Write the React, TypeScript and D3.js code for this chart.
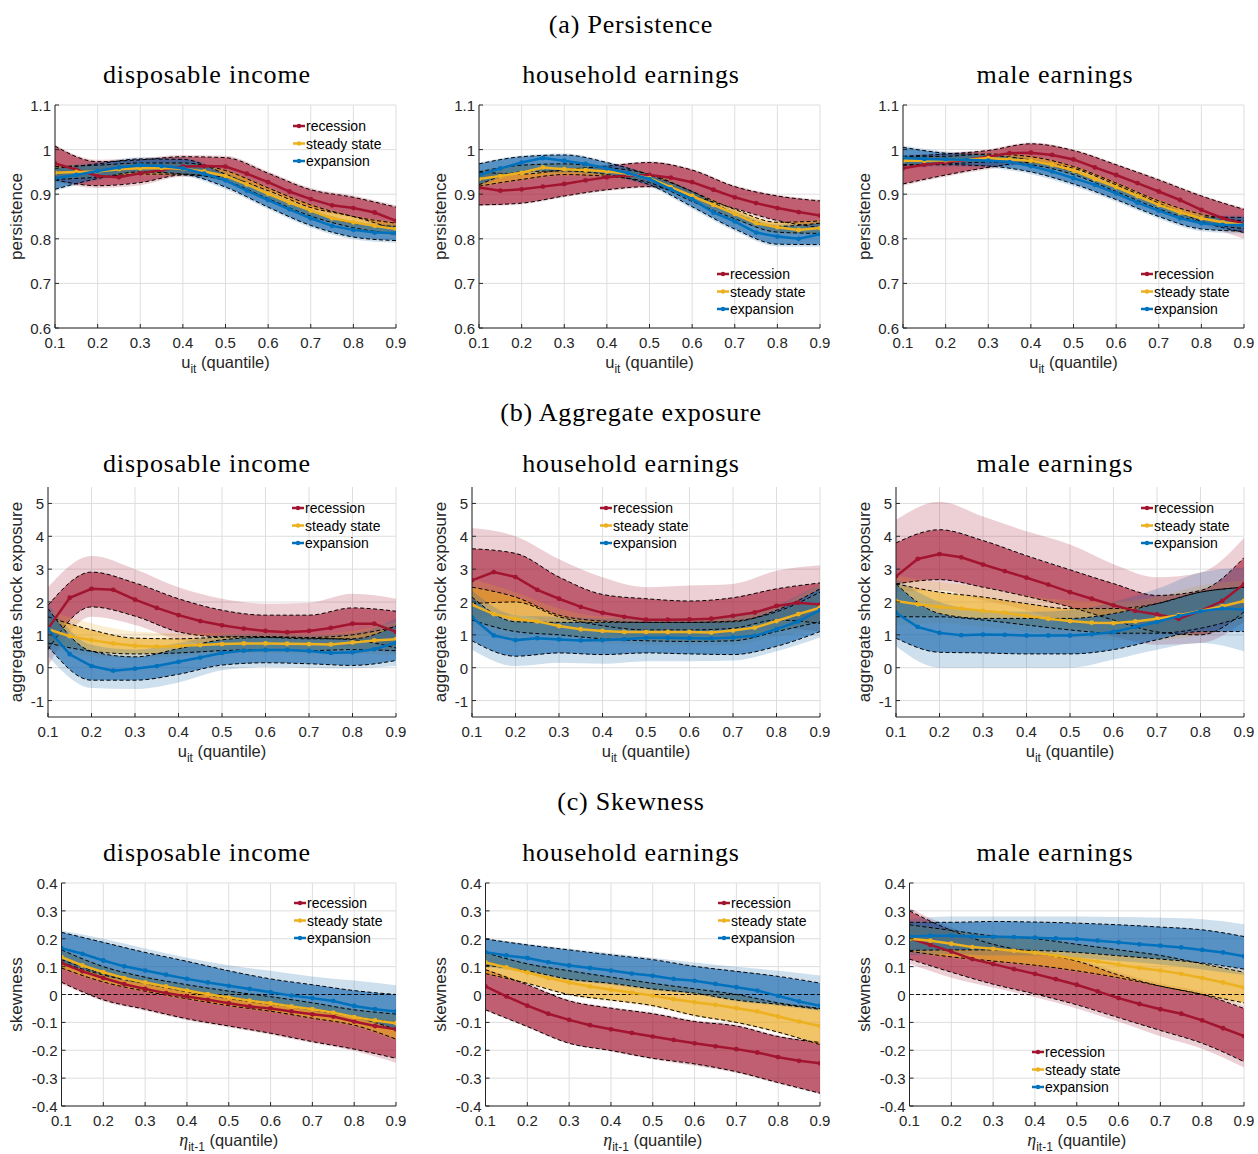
import React, { useEffect, useRef } from 'react';
import * as d3 from 'd3';

// quantile grid of the point estimates and of the confidence bands
const QUANTILES = [0.1, 0.15, 0.2, 0.25, 0.3, 0.35, 0.4, 0.45, 0.5, 0.55, 0.6, 0.65, 0.7, 0.75, 0.8, 0.85, 0.9];
const BAND_QUANTILES = [0.1, 0.2, 0.3, 0.4, 0.5, 0.6, 0.7, 0.8, 0.9];
const X_TICKS = [0.1, 0.2, 0.3, 0.4, 0.5, 0.6, 0.7, 0.8, 0.9];

const SERIES_NAMES = ['recession', 'steady state', 'expansion'];
const SERIES_COLORS = ['#A2142F', '#EDB120', '#0072BD'];
const BAND_COLORS = ['#A2142F', '#E9A820', '#0A5FA8'];
const SECTION_TITLES = ['(a) Persistence', '(b) Aggregate exposure', '(c) Skewness'];
const PANEL_TITLES = ['disposable income', 'household earnings', 'male earnings'];
const Y_LABELS = ['persistence', 'aggregate shock exposure', 'skewness'];
const Y_TICKS_PERS = [0.6, 0.7, 0.8, 0.9, 1, 1.1];
const Y_TICKS_AGG = [-1, 0, 1, 2, 3, 4, 5];
const Y_TICKS_SKEW = [-0.4, -0.3, -0.2, -0.1, 0, 0.1, 0.2, 0.3, 0.4];

// bands: [inner lo, inner hi, outer lo, outer hi] at BAND_QUANTILES

// (a) persistence - disposable income
const persDispRec = [0.969, 0.955, 0.941, 0.938, 0.947, 0.954, 0.962, 0.963, 0.962, 0.946, 0.927, 0.906, 0.889, 0.875, 0.869, 0.859, 0.840];
const persDispRecBand = [
  [0.932, 0.919, 0.926, 0.943, 0.938, 0.908, 0.870, 0.850, 0.820],
  [1.008, 0.973, 0.977, 0.984, 0.982, 0.947, 0.910, 0.893, 0.871],
  [0.928, 0.914, 0.920, 0.939, 0.934, 0.903, 0.866, 0.846, 0.815],
  [1.011, 0.977, 0.981, 0.988, 0.986, 0.951, 0.914, 0.897, 0.875],
];
const persDispSte = [0.948, 0.950, 0.951, 0.956, 0.958, 0.959, 0.957, 0.951, 0.941, 0.922, 0.901, 0.881, 0.863, 0.846, 0.837, 0.829, 0.822];
const persDispSteBand = [
  [0.933, 0.938, 0.945, 0.945, 0.930, 0.890, 0.851, 0.825, 0.810],
  [0.962, 0.965, 0.970, 0.970, 0.953, 0.914, 0.876, 0.850, 0.835],
  [0.930, 0.935, 0.942, 0.942, 0.927, 0.887, 0.848, 0.822, 0.806],
  [0.965, 0.968, 0.973, 0.973, 0.956, 0.917, 0.879, 0.853, 0.838],
];
const persDispExp = [0.936, 0.943, 0.952, 0.960, 0.965, 0.963, 0.958, 0.946, 0.931, 0.908, 0.887, 0.866, 0.846, 0.829, 0.820, 0.814, 0.813];
const persDispExpBand = [
  [0.911, 0.935, 0.950, 0.945, 0.916, 0.871, 0.830, 0.804, 0.796],
  [0.958, 0.968, 0.979, 0.978, 0.945, 0.902, 0.862, 0.835, 0.828],
  [0.907, 0.931, 0.946, 0.941, 0.911, 0.866, 0.825, 0.799, 0.791],
  [0.962, 0.972, 0.983, 0.982, 0.949, 0.906, 0.866, 0.839, 0.832],
];

// (a) persistence - household earnings
const persHhRec = [0.915, 0.908, 0.911, 0.917, 0.923, 0.931, 0.938, 0.942, 0.943, 0.937, 0.927, 0.910, 0.893, 0.880, 0.869, 0.860, 0.852];
const persHhRecBand = [
  [0.876, 0.880, 0.896, 0.910, 0.917, 0.896, 0.868, 0.841, 0.825],
  [0.950, 0.945, 0.955, 0.963, 0.971, 0.954, 0.917, 0.896, 0.885],
  [0.873, 0.877, 0.893, 0.907, 0.914, 0.892, 0.864, 0.837, 0.821],
  [0.953, 0.948, 0.958, 0.966, 0.974, 0.957, 0.920, 0.899, 0.888],
];
const persHhSte = [0.934, 0.941, 0.948, 0.960, 0.956, 0.954, 0.951, 0.946, 0.936, 0.916, 0.896, 0.876, 0.856, 0.835, 0.826, 0.820, 0.824];
const persHhSteBand = [
  [0.918, 0.933, 0.944, 0.940, 0.926, 0.884, 0.845, 0.815, 0.812],
  [0.950, 0.965, 0.968, 0.960, 0.945, 0.906, 0.866, 0.837, 0.840],
  [0.915, 0.930, 0.941, 0.937, 0.923, 0.881, 0.842, 0.812, 0.809],
  [0.953, 0.968, 0.971, 0.963, 0.948, 0.909, 0.869, 0.840, 0.843],
];
const persHhExp = [0.943, 0.958, 0.971, 0.981, 0.975, 0.968, 0.958, 0.947, 0.934, 0.911, 0.889, 0.859, 0.839, 0.814, 0.805, 0.800, 0.810];
const persHhExpBand = [
  [0.921, 0.950, 0.952, 0.944, 0.921, 0.872, 0.822, 0.788, 0.787],
  [0.968, 0.984, 0.988, 0.971, 0.943, 0.906, 0.857, 0.828, 0.835],
  [0.917, 0.946, 0.948, 0.940, 0.917, 0.867, 0.817, 0.783, 0.782],
  [0.971, 0.987, 0.991, 0.974, 0.946, 0.910, 0.861, 0.832, 0.839],
];

// (a) persistence - male earnings
const persMaleRec = [0.958, 0.966, 0.971, 0.977, 0.984, 0.992, 0.993, 0.988, 0.978, 0.960, 0.943, 0.925, 0.906, 0.887, 0.865, 0.846, 0.834];
const persMaleRecBand = [
  [0.923, 0.943, 0.960, 0.971, 0.958, 0.921, 0.880, 0.839, 0.814],
  [0.985, 0.990, 0.998, 1.013, 0.998, 0.966, 0.932, 0.896, 0.866],
  [0.919, 0.939, 0.956, 0.967, 0.954, 0.917, 0.876, 0.834, 0.800],
  [0.988, 0.993, 1.001, 1.016, 1.001, 0.969, 0.935, 0.899, 0.869],
];
const persMaleSte = [0.975, 0.975, 0.976, 0.977, 0.981, 0.978, 0.975, 0.966, 0.953, 0.934, 0.916, 0.896, 0.876, 0.859, 0.846, 0.837, 0.831];
const persMaleSteBand = [
  [0.966, 0.968, 0.972, 0.966, 0.944, 0.906, 0.867, 0.837, 0.823],
  [0.984, 0.985, 0.990, 0.984, 0.962, 0.925, 0.885, 0.855, 0.840],
  [0.963, 0.965, 0.969, 0.963, 0.941, 0.903, 0.864, 0.834, 0.820],
  [0.987, 0.988, 0.993, 0.987, 0.965, 0.928, 0.888, 0.858, 0.843],
];
const persMaleExp = [0.982, 0.979, 0.978, 0.977, 0.975, 0.972, 0.963, 0.951, 0.936, 0.921, 0.902, 0.881, 0.863, 0.846, 0.835, 0.831, 0.831];
const persMaleExpBand = [
  [0.965, 0.966, 0.963, 0.950, 0.923, 0.888, 0.850, 0.822, 0.817],
  [1.005, 0.992, 0.988, 0.976, 0.950, 0.916, 0.877, 0.849, 0.848],
  [0.961, 0.962, 0.959, 0.945, 0.918, 0.883, 0.845, 0.817, 0.812],
  [1.009, 0.996, 0.992, 0.980, 0.954, 0.920, 0.881, 0.853, 0.852],
];

// (b) aggregate exposure - disposable income
const aggDispRec = [1.19, 2.13, 2.40, 2.37, 2.07, 1.82, 1.60, 1.42, 1.29, 1.19, 1.12, 1.08, 1.12, 1.21, 1.34, 1.34, 1.09];
const aggDispRecBand = [
  [0.55, 1.85, 1.57, 1.09, 0.94, 0.93, 0.90, 0.85, 0.60],
  [1.90, 2.91, 2.58, 2.10, 1.75, 1.60, 1.60, 1.82, 1.72],
  [0.05, 1.55, 1.30, 0.85, 0.70, 0.70, 0.70, 0.60, 0.45],
  [2.45, 3.40, 3.00, 2.45, 2.10, 1.95, 1.98, 2.25, 2.10],
];
const aggDispSte = [1.17, 0.96, 0.84, 0.74, 0.67, 0.64, 0.66, 0.69, 0.72, 0.74, 0.74, 0.73, 0.72, 0.71, 0.77, 0.83, 0.87];
const aggDispSteBand = [
  [0.75, 0.50, 0.42, 0.45, 0.52, 0.55, 0.52, 0.55, 0.52],
  [1.55, 1.15, 0.90, 0.88, 0.93, 0.95, 0.92, 1.00, 1.25],
  [0.60, 0.35, 0.30, 0.35, 0.42, 0.45, 0.42, 0.42, 0.38],
  [1.75, 1.35, 1.10, 1.05, 1.05, 1.05, 1.02, 1.12, 1.40],
];
const aggDispExp = [1.17, 0.41, 0.05, -0.09, -0.03, 0.05, 0.18, 0.31, 0.45, 0.52, 0.54, 0.54, 0.51, 0.45, 0.47, 0.56, 0.76];
const aggDispExpBand = [
  [0.65, -0.38, -0.38, -0.20, 0.08, 0.15, 0.12, 0.07, 0.22],
  [1.80, 0.50, 0.33, 0.58, 0.85, 0.92, 0.88, 0.88, 1.28],
  [0.35, -0.62, -0.65, -0.45, -0.08, 0.02, 0.00, -0.02, 0.05],
  [1.95, 0.70, 0.55, 0.75, 1.00, 1.05, 1.00, 1.05, 1.50],
];

// (b) aggregate exposure - household earnings
const aggHhRec = [2.66, 2.91, 2.76, 2.37, 2.10, 1.85, 1.67, 1.55, 1.46, 1.46, 1.47, 1.49, 1.58, 1.68, 1.88, 1.98, 1.92];
const aggHhRecBand = [
  [1.95, 2.00, 1.55, 1.28, 1.15, 1.15, 1.20, 1.45, 1.35],
  [3.62, 3.48, 2.76, 2.23, 2.10, 2.03, 2.13, 2.40, 2.58],
  [1.50, 1.60, 1.30, 1.05, 0.95, 0.95, 1.00, 1.20, 1.10],
  [4.25, 4.00, 3.30, 2.75, 2.45, 2.50, 2.55, 2.95, 3.12],
];
const aggHhSte = [1.92, 1.63, 1.49, 1.41, 1.27, 1.17, 1.12, 1.09, 1.09, 1.09, 1.09, 1.07, 1.13, 1.22, 1.42, 1.63, 1.83];
const aggHhSteBand = [
  [1.45, 1.10, 1.00, 0.88, 0.82, 0.80, 0.82, 1.10, 1.40],
  [2.45, 2.15, 1.60, 1.42, 1.38, 1.38, 1.42, 1.70, 2.30],
  [1.20, 0.90, 0.85, 0.75, 0.70, 0.68, 0.70, 0.95, 1.15],
  [2.70, 2.30, 1.80, 1.55, 1.50, 1.50, 1.55, 1.85, 2.55],
];
const aggHhExp = [1.53, 0.98, 0.84, 0.90, 0.86, 0.83, 0.84, 0.87, 0.91, 0.91, 0.90, 0.89, 0.92, 0.97, 1.17, 1.41, 1.75];
const aggHhExpBand = [
  [0.82, 0.35, 0.45, 0.40, 0.45, 0.42, 0.40, 0.65, 1.10],
  [2.15, 1.40, 1.38, 1.38, 1.38, 1.38, 1.40, 1.75, 2.40],
  [0.55, 0.05, 0.15, 0.12, 0.20, 0.20, 0.22, 0.50, 0.92],
  [2.35, 1.60, 1.55, 1.50, 1.50, 1.50, 1.55, 1.90, 2.55],
];

// (b) aggregate exposure - male earnings
const aggMaleRec = [2.78, 3.31, 3.46, 3.36, 3.14, 2.94, 2.74, 2.53, 2.30, 2.10, 1.90, 1.73, 1.62, 1.49, 1.73, 2.03, 2.54];
const aggMaleRecBand = [
  [2.55, 2.68, 2.45, 2.17, 1.85, 1.45, 1.09, 1.00, 1.70],
  [3.80, 4.20, 3.87, 3.41, 2.98, 2.56, 2.20, 2.35, 3.35],
  [2.30, 2.35, 2.05, 1.75, 1.30, 0.95, 0.70, 0.75, 1.40],
  [4.50, 5.05, 4.60, 4.15, 3.75, 3.15, 2.75, 2.90, 3.95],
];
const aggMaleSte = [2.03, 1.93, 1.85, 1.80, 1.73, 1.67, 1.58, 1.49, 1.42, 1.37, 1.36, 1.41, 1.49, 1.60, 1.73, 1.87, 2.03];
const aggMaleSteBand = [
  [1.55, 1.55, 1.45, 1.30, 1.15, 1.05, 1.05, 1.20, 1.55],
  [2.55, 2.30, 2.15, 1.95, 1.80, 1.80, 1.95, 2.30, 2.45],
  [1.30, 1.35, 1.25, 1.10, 0.95, 0.85, 0.85, 1.00, 1.35],
  [2.80, 2.60, 2.45, 2.20, 2.05, 2.00, 2.15, 2.50, 2.65],
];
const aggMaleExp = [1.67, 1.24, 1.06, 0.99, 1.01, 1.00, 0.98, 0.98, 0.98, 1.02, 1.09, 1.24, 1.39, 1.57, 1.72, 1.80, 1.77];
const aggMaleExpBand = [
  [0.90, 0.47, 0.45, 0.42, 0.42, 0.55, 0.85, 1.10, 1.10],
  [2.55, 1.65, 1.50, 1.50, 1.50, 1.65, 1.95, 2.30, 2.45],
  [0.65, 0.00, 0.00, 0.00, 0.00, 0.25, 0.55, 0.75, 0.50],
  [2.70, 2.00, 1.75, 1.70, 1.75, 2.00, 2.40, 2.90, 3.05],
];

// (c) skewness - disposable income
const skewDispRec = [0.113, 0.083, 0.059, 0.037, 0.020, 0.005, -0.007, -0.019, -0.031, -0.043, -0.050, -0.061, -0.071, -0.079, -0.097, -0.113, -0.125];
const skewDispRecBand = [
  [0.044, -0.019, -0.053, -0.087, -0.113, -0.139, -0.169, -0.196, -0.229],
  [0.125, 0.075, 0.040, 0.010, -0.015, -0.035, -0.055, -0.080, -0.100],
  [0.038, -0.024, -0.058, -0.092, -0.118, -0.144, -0.174, -0.203, -0.245],
  [0.130, 0.080, 0.045, 0.015, -0.010, -0.030, -0.050, -0.075, -0.095],
];
const skewDispSte = [0.134, 0.104, 0.080, 0.059, 0.043, 0.029, 0.014, 0.001, -0.011, -0.022, -0.031, -0.043, -0.053, -0.065, -0.081, -0.093, -0.103];
const skewDispSteBand = [
  [0.095, 0.045, 0.012, -0.015, -0.040, -0.060, -0.085, -0.110, -0.160],
  [0.160, 0.100, 0.062, 0.035, 0.012, -0.008, -0.030, -0.055, -0.070],
  [0.090, 0.040, 0.007, -0.020, -0.045, -0.065, -0.090, -0.116, -0.168],
  [0.165, 0.105, 0.067, 0.040, 0.017, -0.003, -0.025, -0.050, -0.063],
];
const skewDispExp = [0.166, 0.146, 0.122, 0.101, 0.086, 0.071, 0.056, 0.043, 0.031, 0.020, 0.008, -0.004, -0.013, -0.023, -0.041, -0.053, -0.061];
const skewDispExpBand = [
  [0.115, 0.070, 0.040, 0.015, -0.010, -0.030, -0.055, -0.080, -0.125],
  [0.223, 0.187, 0.151, 0.119, 0.085, 0.056, 0.035, 0.014, 0.000],
  [0.110, 0.065, 0.035, 0.010, -0.015, -0.035, -0.060, -0.085, -0.132],
  [0.230, 0.200, 0.165, 0.132, 0.105, 0.085, 0.065, 0.050, 0.033],
];

// (c) skewness - household earnings
const skewHhRec = [0.029, -0.007, -0.040, -0.069, -0.091, -0.110, -0.125, -0.138, -0.151, -0.163, -0.175, -0.186, -0.196, -0.208, -0.225, -0.238, -0.247];
const skewHhRecBand = [
  [-0.055, -0.115, -0.175, -0.201, -0.229, -0.249, -0.277, -0.316, -0.354],
  [0.089, 0.035, -0.023, -0.049, -0.069, -0.097, -0.113, -0.151, -0.172],
  [-0.058, -0.118, -0.178, -0.205, -0.233, -0.256, -0.282, -0.320, -0.358],
  [0.093, 0.040, -0.019, -0.045, -0.065, -0.092, -0.108, -0.146, -0.168],
];
const skewHhSte = [0.115, 0.097, 0.079, 0.059, 0.043, 0.029, 0.017, 0.007, -0.004, -0.017, -0.028, -0.037, -0.049, -0.061, -0.079, -0.097, -0.113];
const skewHhSteBand = [
  [0.075, 0.040, 0.000, -0.020, -0.040, -0.075, -0.100, -0.135, -0.180],
  [0.150, 0.110, 0.085, 0.062, 0.040, 0.020, 0.000, -0.030, -0.050],
  [0.070, 0.035, -0.005, -0.025, -0.045, -0.080, -0.105, -0.140, -0.185],
  [0.155, 0.115, 0.090, 0.067, 0.045, 0.025, 0.005, -0.025, -0.045],
];
const skewHhExp = [0.152, 0.140, 0.131, 0.116, 0.104, 0.095, 0.086, 0.075, 0.067, 0.056, 0.049, 0.038, 0.026, 0.014, -0.005, -0.025, -0.040];
const skewHhExpBand = [
  [0.105, 0.085, 0.055, 0.040, 0.020, 0.005, -0.020, -0.035, -0.053],
  [0.199, 0.178, 0.160, 0.142, 0.125, 0.101, 0.083, 0.065, 0.041],
  [0.100, 0.080, 0.050, 0.035, 0.015, 0.000, -0.025, -0.040, -0.058],
  [0.203, 0.182, 0.165, 0.148, 0.132, 0.115, 0.100, 0.085, 0.068],
];

// (c) skewness - male earnings
const skewMaleRec = [0.202, 0.178, 0.154, 0.127, 0.109, 0.091, 0.074, 0.055, 0.035, 0.011, -0.013, -0.034, -0.053, -0.069, -0.093, -0.121, -0.149];
const skewMaleRecBand = [
  [0.127, 0.080, 0.037, 0.002, -0.037, -0.083, -0.129, -0.175, -0.241],
  [0.300, 0.230, 0.180, 0.150, 0.120, 0.070, 0.030, 0.000, -0.050],
  [0.110, 0.060, 0.025, -0.010, -0.050, -0.098, -0.150, -0.195, -0.262],
  [0.310, 0.240, 0.190, 0.160, 0.130, 0.080, 0.040, 0.010, -0.040],
];
const skewMaleSte = [0.200, 0.193, 0.182, 0.170, 0.164, 0.157, 0.150, 0.139, 0.127, 0.118, 0.107, 0.095, 0.086, 0.074, 0.059, 0.043, 0.025];
const skewMaleSteBand = [
  [0.155, 0.135, 0.120, 0.105, 0.085, 0.060, 0.030, 0.000, -0.030],
  [0.250, 0.230, 0.210, 0.200, 0.180, 0.160, 0.140, 0.110, 0.080],
  [0.150, 0.130, 0.115, 0.100, 0.080, 0.055, 0.025, -0.005, -0.040],
  [0.255, 0.235, 0.215, 0.205, 0.185, 0.165, 0.145, 0.115, 0.088],
];
const skewMaleExp = [0.208, 0.211, 0.211, 0.208, 0.207, 0.206, 0.204, 0.201, 0.199, 0.193, 0.187, 0.180, 0.175, 0.169, 0.160, 0.151, 0.137];
const skewMaleExpBand = [
  [0.158, 0.160, 0.160, 0.158, 0.151, 0.139, 0.127, 0.113, 0.091],
  [0.259, 0.259, 0.262, 0.260, 0.256, 0.250, 0.242, 0.232, 0.208],
  [0.140, 0.145, 0.140, 0.140, 0.132, 0.120, 0.108, 0.090, 0.070],
  [0.270, 0.280, 0.280, 0.280, 0.280, 0.278, 0.275, 0.270, 0.252],
];

const SANS = '"Liberation Sans", Arial, Helvetica, sans-serif';
const SERIF = '"Liberation Serif", "Times New Roman", serif';
const COL_X = [0, 424, 848];

const ROWS = [
  {
    top: 105, bottom: 328, left: 55, sectionY: 33, subY: 83,
    yDomain: [0.6, 1.1], yTicks: Y_TICKS_PERS, zeroLine: false, eta: false,
    panels: [
      [[persDispRec, persDispRecBand], [persDispSte, persDispSteBand], [persDispExp, persDispExpBand]],
      [[persHhRec, persHhRecBand], [persHhSte, persHhSteBand], [persHhExp, persHhExpBand]],
      [[persMaleRec, persMaleRecBand], [persMaleSte, persMaleSteBand], [persMaleExp, persMaleExpBand]],
    ],
    legends: [[-103, 21], [-103, 169], [-103, 169]],
  },
  {
    top: 487, bottom: 717, left: 48, sectionY: 421, subY: 472,
    yDomain: [-1.5, 5.5], yTicks: Y_TICKS_AGG, zeroLine: false, eta: false,
    panels: [
      [[aggDispRec, aggDispRecBand], [aggDispSte, aggDispSteBand], [aggDispExp, aggDispExpBand]],
      [[aggHhRec, aggHhRecBand], [aggHhSte, aggHhSteBand], [aggHhExp, aggHhExpBand]],
      [[aggMaleRec, aggMaleRecBand], [aggMaleSte, aggMaleSteBand], [aggMaleExp, aggMaleExpBand]],
    ],
    legends: [[-104, 21], [-220, 21], [-103, 21]],
  },
  {
    top: 883, bottom: 1106, left: 61.5, sectionY: 810, subY: 861,
    yDomain: [-0.4, 0.4], yTicks: Y_TICKS_SKEW, zeroLine: true, eta: true,
    panels: [
      [[skewDispRec, skewDispRecBand], [skewDispSte, skewDispSteBand], [skewDispExp, skewDispExpBand]],
      [[skewHhRec, skewHhRecBand], [skewHhSte, skewHhSteBand], [skewHhExp, skewHhExpBand]],
      [[skewMaleRec, skewMaleRecBand], [skewMaleSte, skewMaleSteBand], [skewMaleExp, skewMaleExpBand]],
    ],
    legends: [[-102, 20], [-102, 20], [-212, 169]],
  },
];

const fmt = (v: number) => String(+v.toFixed(2));

export default function App() {
  const svgRef = useRef<SVGSVGElement>(null);

  useEffect(() => {
    const svg = d3.select(svgRef.current);
    svg.selectAll('*').remove();

    svg.append('rect').attr('width', 1258).attr('height', 1154).attr('fill', '#fff');

    ROWS.forEach((row, r) => {
      // section title, e.g. (a) Persistence
      svg.append('text')
        .attr('x', 631).attr('y', row.sectionY)
        .attr('text-anchor', 'middle')
        .attr('font-family', SERIF).attr('font-size', 26).attr('letter-spacing', 0.8)
        .text(SECTION_TITLES[r]);

      row.panels.forEach((panel, c) => {
        const cx = COL_X[c];
        const left = cx + row.left;
        const right = cx + 396;
        const x = d3.scaleLinear().domain([0.1, 0.9]).range([left, right]);
        const y = d3.scaleLinear().domain(row.yDomain).range([row.bottom, row.top]);

        svg.append('text')
          .attr('x', cx + 207).attr('y', row.subY)
          .attr('text-anchor', 'middle')
          .attr('font-family', SERIF).attr('font-size', 26).attr('letter-spacing', 0.9)
          .text(PANEL_TITLES[c]);

        const g = svg.append('g');

        // grid
        g.selectAll('.gx').data(X_TICKS).enter().append('line')
          .attr('x1', d => x(d)).attr('x2', d => x(d))
          .attr('y1', row.top).attr('y2', row.bottom)
          .attr('stroke', '#dedede').attr('stroke-width', 1);
        g.selectAll('.gy').data(row.yTicks).enter().append('line')
          .attr('x1', left).attr('x2', right)
          .attr('y1', d => y(d)).attr('y2', d => y(d))
          .attr('stroke', '#dedede').attr('stroke-width', 1);

        const clipId = `clip-${r}-${c}`;
        svg.append('clipPath').attr('id', clipId)
          .append('rect')
          .attr('x', left).attr('y', row.top)
          .attr('width', right - left).attr('height', row.bottom - row.top);
        const plot = g.append('g').attr('clip-path', `url(#${clipId})`);

        const idx = d3.range(BAND_QUANTILES.length);
        const bandArea = (lo: number[], hi: number[]) => d3.area<number>()
          .x(i => x(BAND_QUANTILES[i]))
          .y0(i => y(lo[i]))
          .y1(i => y(hi[i]))
          .curve(d3.curveMonotoneX)(idx);
        const bandLine = (vals: number[]) => d3.line<number>()
          .x(i => x(BAND_QUANTILES[i]))
          .y(i => y(vals[i]))
          .curve(d3.curveMonotoneX)(idx);

        // bands: light outer, darker inner
        panel.forEach(([, band], s) => {
          plot.append('path')
            .attr('d', bandArea(band[2], band[3]))
            .attr('fill', BAND_COLORS[s]).attr('fill-opacity', 0.2);
          plot.append('path')
            .attr('d', bandArea(band[0], band[1]))
            .attr('fill', BAND_COLORS[s]).attr('fill-opacity', 0.6);
        });

        // dashed inner-band borders
        panel.forEach(([, band]) => {
          [band[0], band[1]].forEach(vals => {
            plot.append('path')
              .attr('d', bandLine(vals))
              .attr('fill', 'none')
              .attr('stroke', '#000').attr('stroke-width', 1)
              .attr('stroke-dasharray', '4,2.5');
          });
        });

        if (row.zeroLine) {
          plot.append('line')
            .attr('x1', left).attr('x2', right)
            .attr('y1', y(0)).attr('y2', y(0))
            .attr('stroke', '#000').attr('stroke-width', 1)
            .attr('stroke-dasharray', '4,2.5');
        }

        // point estimates
        panel.forEach(([mean], s) => {
          const line = d3.line<number>()
            .x((_, i) => x(QUANTILES[i]))
            .y(d => y(d));
          plot.append('path')
            .attr('d', line(mean as number[]))
            .attr('fill', 'none')
            .attr('stroke', SERIES_COLORS[s]).attr('stroke-width', 2.5);
          plot.selectAll(null).data(mean as number[]).enter().append('circle')
            .attr('cx', (_, i) => x(QUANTILES[i]))
            .attr('cy', d => y(d))
            .attr('r', 2.4)
            .attr('fill', SERIES_COLORS[s]);
        });

        // axes (box off, ticks inward)
        const axisColor = '#262626';
        g.append('line').attr('x1', left).attr('x2', left)
          .attr('y1', row.top).attr('y2', row.bottom)
          .attr('stroke', axisColor).attr('stroke-width', 1);
        g.append('line').attr('x1', left).attr('x2', right)
          .attr('y1', row.bottom).attr('y2', row.bottom)
          .attr('stroke', axisColor).attr('stroke-width', 1);
        g.selectAll('.ty').data(row.yTicks).enter().append('line')
          .attr('x1', left).attr('x2', left + 4)
          .attr('y1', d => y(d)).attr('y2', d => y(d))
          .attr('stroke', axisColor);
        g.selectAll('.tx').data(X_TICKS).enter().append('line')
          .attr('x1', d => x(d)).attr('x2', d => x(d))
          .attr('y1', row.bottom).attr('y2', row.bottom - 4)
          .attr('stroke', axisColor);

        g.selectAll('.ly').data(row.yTicks).enter().append('text')
          .attr('x', left - 4).attr('y', d => y(d))
          .attr('dy', '0.4em')
          .attr('text-anchor', 'end')
          .attr('font-family', SANS).attr('font-size', 15).attr('fill', axisColor)
          .text(d => fmt(d));
        g.selectAll('.lx').data(X_TICKS).enter().append('text')
          .attr('x', d => x(d)).attr('y', row.bottom + 19.5)
          .attr('text-anchor', 'middle')
          .attr('font-family', SANS).attr('font-size', 15).attr('fill', axisColor)
          .text(d => fmt(d));

        // y label
        g.append('text')
          .attr('transform', `translate(${cx + 22},${(row.top + row.bottom) / 2}) rotate(-90)`)
          .attr('text-anchor', 'middle')
          .attr('font-family', SANS).attr('font-size', 17).attr('fill', axisColor)
          .text(Y_LABELS[r]);

        // x label
        const xl = g.append('text')
          .attr('x', (left + right) / 2).attr('y', row.bottom + 40)
          .attr('text-anchor', 'middle')
          .attr('font-family', SANS).attr('font-size', 16.5).attr('fill', axisColor);
        if (row.eta) {
          xl.append('tspan').attr('font-family', SERIF).attr('font-style', 'italic').attr('font-size', 18).text('η');
          xl.append('tspan').attr('font-size', 12).attr('dy', 5).text('it-1');
        } else {
          xl.append('tspan').text('u');
          xl.append('tspan').attr('font-size', 12).attr('dy', 5).text('it');
        }
        xl.append('tspan').attr('dy', -5).text(' (quantile)');

        // legend
        const [ldx, ldy] = row.legends[c];
        SERIES_NAMES.forEach((name, s) => {
          const lx = right + ldx;
          const ly = row.top + ldy + s * 17.5;
          g.append('line')
            .attr('x1', lx).attr('x2', lx + 12)
            .attr('y1', ly).attr('y2', ly)
            .attr('stroke', SERIES_COLORS[s]).attr('stroke-width', 2.5);
          g.append('circle').attr('cx', lx + 6).attr('cy', ly).attr('r', 2.2)
            .attr('fill', SERIES_COLORS[s]);
          g.append('text')
            .attr('x', lx + 13).attr('y', ly + 5)
            .attr('font-family', SANS).attr('font-size', 14).attr('fill', '#000')
            .text(name);
        });
      });
    });
  }, []);

  return (
    <svg
      ref={svgRef}
      width={1258}
      height={1154}
      style={{ position: 'absolute', left: 0, top: 0 }}
    />
  );
}
